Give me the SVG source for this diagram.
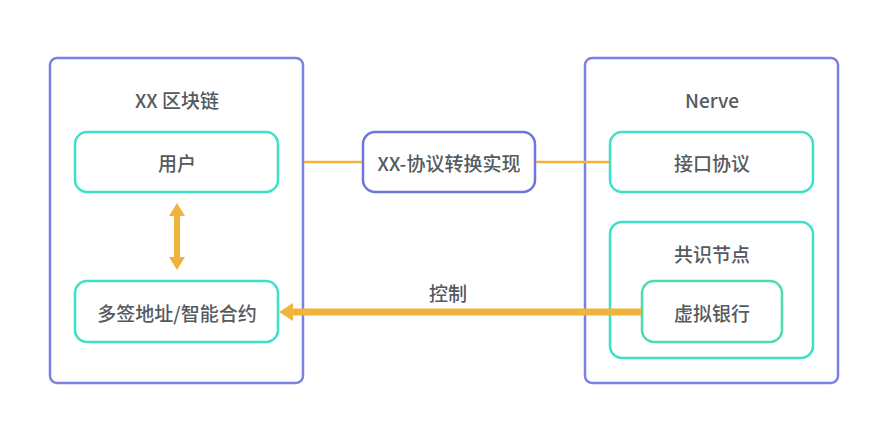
<svg xmlns="http://www.w3.org/2000/svg" width="889" height="438" viewBox="0 0 889 438">
<defs>
<style>
.outer{fill:#fff;stroke:#7c80e2;stroke-width:2.5}
.inner{fill:#fff;stroke:#3fe0c9;stroke-width:2.5}
.green{fill:#fff;stroke:#4fdcaa;stroke-width:2.5}
.mid{fill:#fff;stroke:#6f76da;stroke-width:2.5}
text{font-family:"Noto Sans CJK SC","Noto Sans",sans-serif;font-size:19px;fill:#555a5f;text-anchor:middle;dominant-baseline:central;font-weight:500}
.thin{stroke:#f0b43c;stroke-width:2.5;fill:none}
.thick{stroke:#f0b43c;stroke-width:7;fill:none}
</style>
</defs>
<rect width="889" height="438" fill="#fff"/>
<g id="xx-chain">
<rect class="outer" x="50" y="58" width="253" height="325" rx="7"/>
<text x="177" y="99">XX 区块链</text>
</g>
<g id="nerve">
<rect class="outer" x="585" y="58" width="253" height="325" rx="7"/>
<text x="712" y="99">Nerve</text>
</g>
<g id="user">
<rect class="inner" x="75" y="132" width="203" height="60" rx="12"/>
<text x="177" y="162">用户</text>
</g>
<g id="multisig">
<rect class="inner" x="75" y="281" width="203" height="61" rx="12"/>
<text x="177" y="312">多签地址/智能合约</text>
</g>
<g id="protocol">
<rect class="mid" x="363" y="132" width="172" height="60" rx="12"/>
<text x="449" y="162">XX-协议转换实现</text>
</g>
<g id="interface">
<rect class="inner" x="610" y="132" width="203" height="60" rx="12"/>
<text x="712" y="162">接口协议</text>
</g>
<g id="consensus">
<rect class="inner" x="610" y="222" width="203" height="136" rx="12"/>
<text x="712" y="253">共识节点</text>
</g>
<g id="vbank">
<rect class="green" x="642" y="281" width="140" height="61" rx="12"/>
<text x="712" y="312">虚拟银行</text>
</g>
<g id="connectors">
<line class="thin" x1="304" y1="162" x2="362" y2="162"/>
<line class="thin" x1="536" y1="162" x2="609" y2="162"/>
<line class="thick" x1="641" y1="312" x2="290" y2="312"/>
<polygon points="279,312 293,303 293,321" fill="#f0b43c"/>
<line stroke="#f0b43c" stroke-width="6" x1="177" y1="214" x2="177" y2="259"/>
<polygon points="177,203 185,216 169,216" fill="#f0b43c"/>
<polygon points="177,270 185,257 169,257" fill="#f0b43c"/>
<text x="448" y="292">控制</text>
</g>
</svg>
